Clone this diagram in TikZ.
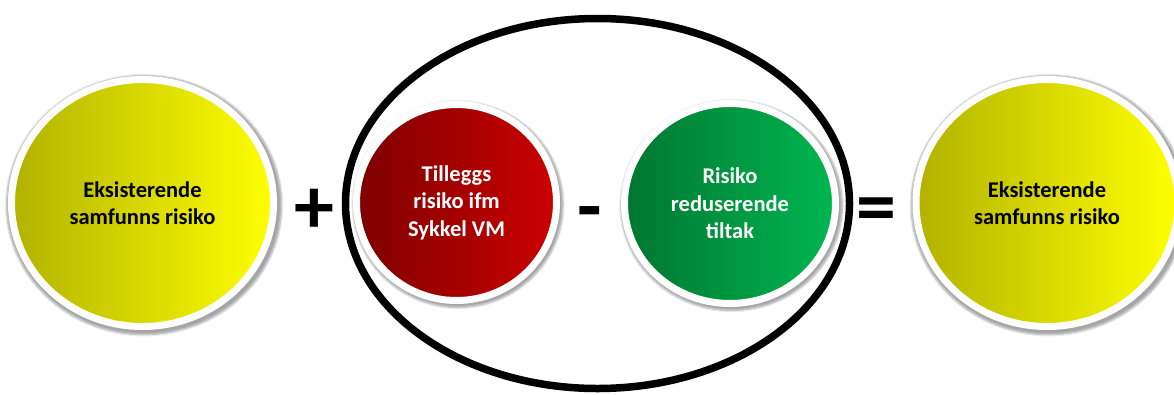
\documentclass[tikz,border=0pt]{standalone}
\usepackage{fontspec}
\setmainfont{Carlito}
\usetikzlibrary{shapes.geometric,shadows.blur}

\definecolor{yellowdark}{RGB}{178,178,0}
\definecolor{yellowlight}{RGB}{255,255,0}
\definecolor{reddark}{RGB}{125,0,0}
\definecolor{redlight}{RGB}{204,0,0}
\definecolor{greendark}{RGB}{0,118,48}
\definecolor{greenlight}{RGB}{0,182,80}

\tikzset{
	risk/.style={ellipse, draw=white, line width=7pt, align=center,
		font=\bfseries\fontsize{22.5}{27.5}\selectfont,
		blur shadow={shadow xshift=1.5pt, shadow yshift=-2pt, shadow scale=1.05, shadow blur steps=6, shadow opacity=35}},
	sign/.style={font=\bfseries\fontsize{80}{80}\selectfont, anchor=base}
}

\begin{document}
\begin{tikzpicture}[x=1pt,y=-1pt]

			\useasboundingbox (0,0) rectangle (1174,394);

			\node[ellipse, draw=black, line width=7.5pt, minimum width=504pt, minimum height=370pt] (event) at (597.5,203.5) {};

			\node[risk, left color=yellowdark, right color=yellowlight, minimum width=262pt, minimum height=247pt] (now) at (142.5,203) {Eksisterende\\samfunns risiko};

			\node[risk, left color=reddark, right color=redlight, text=white, minimum width=200pt, minimum height=196pt] (extra) at (456.5,202.5) {Tilleggs\\risiko ifm\\Sykkel VM};

			\node[risk, left color=greendark, right color=greenlight, text=white, minimum width=211pt, minimum height=200pt] (measures) at (730,203.5) {Risiko\\reduserende\\tiltak};

			\node[risk, left color=yellowdark, right color=yellowlight, minimum width=262pt, minimum height=247pt] (after) at (1047,203) {Eksisterende\\samfunns risiko};

			\node[sign] (plus) at (314.5,233) {+};
			\node[sign] (minus) at (590,233) {-};
			\node[sign] (equals) at (876,233) {=};

\end{tikzpicture}
\end{document}
